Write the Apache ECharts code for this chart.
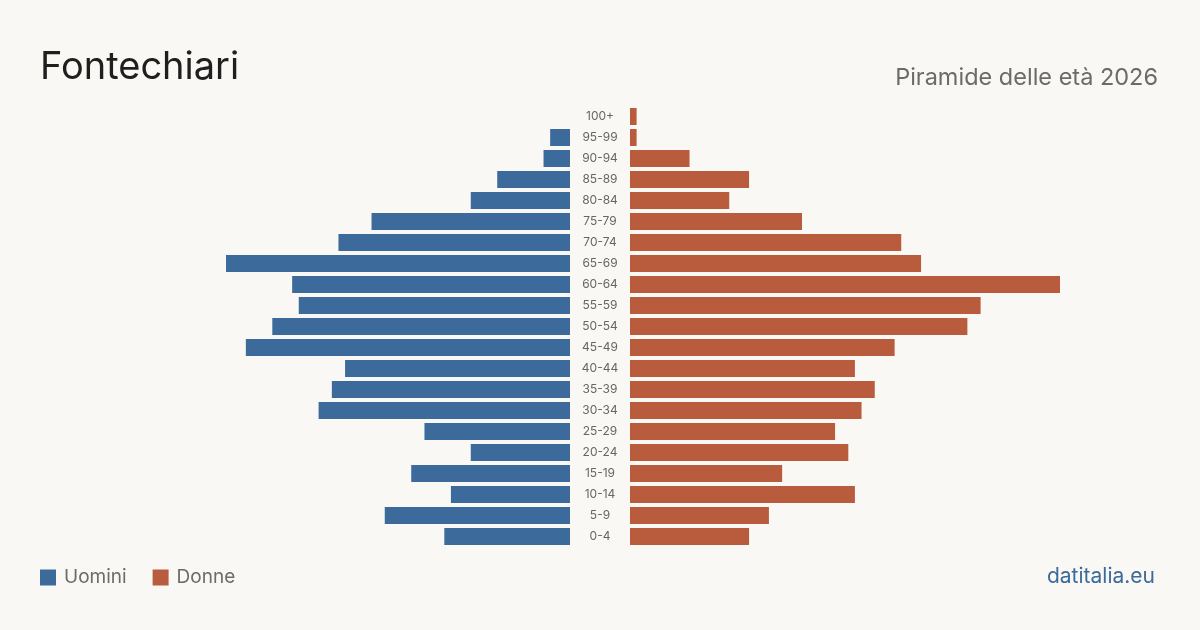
<!DOCTYPE html>
<html>
<head>
<meta charset="utf-8">
<script src="https://cdn.jsdelivr.net/npm/echarts@6/dist/echarts.min.js"></script>
<style>
  * { margin: 0; padding: 0; }
  body { background: #f9f8f4; }
  #main { width: 1200px; height: 630px; }
</style>
</head>
<body>
<div id="main"></div>
<script>
// fasce d'età, dal basso verso l'alto
var ageGroups = ['0-4', '5-9', '10-14', '15-19', '20-24', '25-29', '30-34', '35-39', '40-44', '45-49',
  '50-54', '55-59', '60-64', '65-69', '70-74', '75-79', '80-84', '85-89', '90-94', '95-99', '100+'];
var uomini = [19, 28, 18, 24, 15, 22, 38, 36, 34, 49, 45, 41, 42, 52, 35, 30, 15, 11, 4, 3, 0];
var donne = [18, 21, 34, 23, 33, 31, 35, 37, 34, 40, 51, 53, 65, 44, 41, 26, 15, 18, 9, 1, 1];

var maxVal = Math.max(Math.max.apply(null, uomini), Math.max.apply(null, donne));
var font = 'Inter, "Liberation Sans", sans-serif';

var chart = echarts.init(document.getElementById('main'));
chart.setOption({
  backgroundColor: '#f9f8f4',
  color: ['#3b6a9b', '#b95c3d'],
  textStyle: { fontFamily: font },
  title: [
    { text: 'Fontechiari', left: 40, top: 49, padding: 0,
      textStyle: { fontSize: 38, fontWeight: 'normal', color: '#1f1f1f', fontFamily: font } },
    { text: 'Piramide delle età 2026', right: 42, top: 66, padding: 0,
      textStyle: { fontSize: 23.5, fontWeight: 'normal', color: '#6b6b6b', fontFamily: font } },
    { text: 'datitalia.eu', right: 45, top: 566, padding: 0,
      textStyle: { fontSize: 21, fontWeight: 'normal', color: '#3b6a9b', fontFamily: font } }
  ],
  legend: {
    left: 40, top: 568, padding: 0,
    icon: 'rect', itemWidth: 16, itemHeight: 16, itemGap: 26,
    textStyle: { fontSize: 19, color: '#6b6b6b', fontFamily: font, padding: [0, 0, 0, 3] },
    data: ['Uomini', 'Donne']
  },
  grid: [
    { left: 140, width: 430, top: 106, height: 441 },
    { left: 630, width: 430, top: 106, height: 441 }
  ],
  xAxis: [
    { gridIndex: 0, type: 'value', min: 0, max: maxVal, inverse: true, show: false },
    { gridIndex: 1, type: 'value', min: 0, max: maxVal, show: false }
  ],
  yAxis: [
    { gridIndex: 0, type: 'category', data: ageGroups, show: false },
    { gridIndex: 1, type: 'category', data: ageGroups,
      axisLine: { show: false }, axisTick: { show: false },
      axisLabel: { align: 'center', margin: 30, fontSize: 12, color: '#666', fontFamily: font,
        padding: [4, 0, 0, 0] } }
  ],
  series: [
    { name: 'Uomini', type: 'bar', xAxisIndex: 0, yAxisIndex: 0, barWidth: 17, data: uomini, silent: true },
    { name: 'Donne', type: 'bar', xAxisIndex: 1, yAxisIndex: 1, barWidth: 17, data: donne, silent: true }
  ]
});
</script>
</body>
</html>
